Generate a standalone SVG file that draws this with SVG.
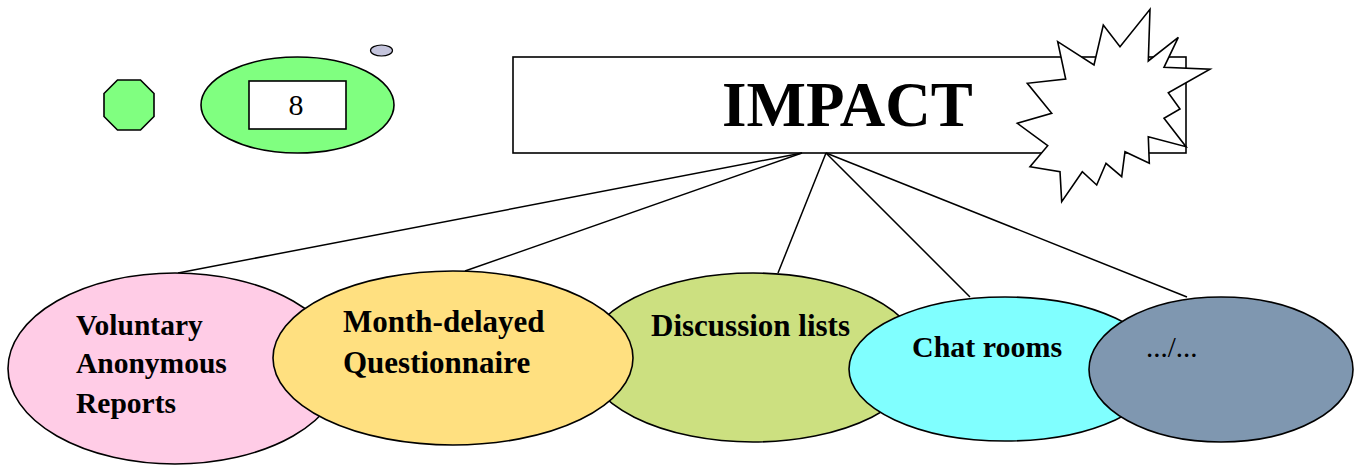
<svg xmlns="http://www.w3.org/2000/svg" width="1361" height="472" viewBox="0 0 1361 472">
<style>
.o{stroke:#000;stroke-width:1.6}
.b{font-family:"Liberation Serif","Times New Roman",serif;font-weight:bold;fill:#000}
.r{font-family:"Liberation Serif","Times New Roman",serif;fill:#000}
.c{stroke:#000;stroke-width:1.5;fill:none}
</style>
<rect width="1361" height="472" fill="#fff"/>
<g id="octagon"><polygon class="o" fill="#80ff80" points="117.5,80 140.5,80 154,93.5 154,116.5 140.5,130 117.5,130 104,116.5 104,93.5"/></g>
<g id="counter">
<ellipse class="o" fill="#80ff80" cx="297.5" cy="105" rx="96.5" ry="48"/>
<rect class="o" fill="#fff" x="249" y="81" width="97" height="48"/>
<text class="r" x="296" y="115" font-size="30" text-anchor="middle">8</text>
</g>
<g id="dot"><ellipse stroke="#000" stroke-width="1.2" fill="#c4c4dc" cx="381.5" cy="50.5" rx="11" ry="5.5"/></g>
<g id="impact">
<rect class="o" fill="#fff" x="513" y="57" width="673" height="96"/>
<text class="b" x="722" y="126" font-size="63">IMPACT</text>
</g>
<g id="burst"><polygon class="o" fill="#fff" points="1150,9.3 1148.3,61 1178.3,37.3 1164,67.3 1210,69.3 1168.3,92.7 1180,109 1164,118.3 1186,146.7 1148.3,136.7 1149.3,163.3 1125,151.7 1121.7,176.7 1106,163.3 1096.7,185 1082.3,171.7 1061.7,201.7 1060,171.7 1030,166.7 1047.7,145.7 1017.3,123.3 1051.7,113.3 1027.3,83.3 1065.7,79 1057.7,41.7 1094,65 1103.3,25 1120,46.7"/></g>
<g id="connectors">
<line class="c" x1="802" y1="153" x2="178" y2="273"/>
<line class="c" x1="802" y1="153" x2="465" y2="271"/>
<line class="c" x1="826" y1="153" x2="778" y2="273"/>
<line class="c" x1="826" y1="153" x2="970" y2="297"/>
<line class="c" x1="826" y1="153" x2="1187" y2="297"/>
</g>
<g id="voluntary">
<ellipse class="o" fill="#ffcce6" cx="175" cy="368.5" rx="167" ry="95.5"/>
<text class="b" font-size="29.5"><tspan x="76" y="335">Voluntary</tspan><tspan x="76" y="373">Anonymous</tspan><tspan x="76" y="413">Reports</tspan></text>
</g>
<g id="discussion">
<ellipse class="o" fill="#cce080" cx="753" cy="357.5" rx="168" ry="84.5"/>
<text class="b" x="651" y="336" font-size="31">Discussion lists</text>
</g>
<g id="questionnaire">
<ellipse class="o" fill="#ffe080" cx="453" cy="358" rx="180" ry="87"/>
<text class="b" font-size="31"><tspan x="343" y="332">Month-delayed</tspan><tspan x="343" y="373">Questionnaire</tspan></text>
</g>
<g id="chat">
<ellipse class="o" fill="#80ffff" cx="1005" cy="369" rx="156" ry="72"/>
<text class="b" x="912" y="357" font-size="30">Chat rooms</text>
</g>
<g id="more">
<ellipse class="o" fill="#7f97b0" cx="1221" cy="369.5" rx="132" ry="72.5"/>
<text class="r" x="1146" y="357" font-size="29" fill="#111">.../...</text>
</g>
</svg>
